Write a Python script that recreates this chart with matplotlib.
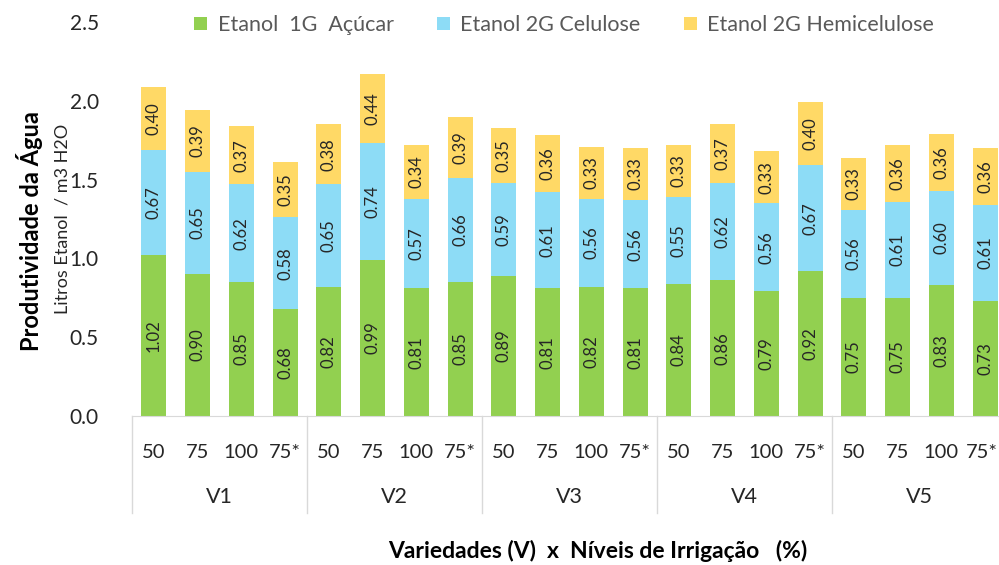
import matplotlib
matplotlib.use("Agg")
import matplotlib.pyplot as plt
import matplotlib.transforms as mtransforms
import numpy as np

plt.rcParams['font.family'] = ['Lato', 'DejaVu Sans']

groups = ["V1", "V2", "V3", "V4", "V5"]
levels = ["50", "75", "100", "75*"]
acucar = [1.02, 0.90, 0.85, 0.68, 0.82, 0.99, 0.81, 0.85, 0.89, 0.81,
          0.82, 0.81, 0.84, 0.86, 0.79, 0.92, 0.75, 0.75, 0.83, 0.73]
celulose = [0.67, 0.65, 0.62, 0.58, 0.65, 0.74, 0.57, 0.66, 0.59, 0.61,
            0.56, 0.56, 0.55, 0.62, 0.56, 0.67, 0.56, 0.61, 0.60, 0.61]
hemicelulose = [0.40, 0.39, 0.37, 0.35, 0.38, 0.44, 0.34, 0.39, 0.35, 0.36,
                0.33, 0.33, 0.33, 0.37, 0.33, 0.40, 0.33, 0.36, 0.36, 0.36]
series_names = ["Etanol  1G  Açúcar", "Etanol 2G Celulose", "Etanol 2G Hemicelulose"]
colors = ["#92D050", "#8DDCF6", "#FFD966"]

fig = plt.figure(figsize=(9.99, 5.65), dpi=100)
ax = fig.add_axes([132/999, 149/565, 1 - 132/999, (416-22)/565])

n = len(acucar)
x = np.arange(n)
w = 0.57
bottom = np.zeros(n)
for vals, c, name in zip([acucar, celulose, hemicelulose], colors, series_names):
    vals = np.array(vals)
    ax.bar(x, vals, w, bottom=bottom, color=c, label=name)
    for xi, b, v in zip(x, bottom, vals):
        ax.text(xi, b + v/2, f"{v:.2f}", rotation=90, ha='center', va='center',
                fontsize=12, color='#262626')
    bottom = bottom + vals

ax.set_xlim(-0.5, -0.5 + (999-132)/43.75)
ax.set_ylim(0, 2.5)
ticks = [0, 0.5, 1.0, 1.5, 2.0, 2.5]
ax.set_yticks(ticks)
ax.set_yticklabels([f"{t:.1f}" for t in ticks], fontsize=15, color='#262626')
ax.tick_params(axis='y', length=0, pad=24)
ax.set_xticks(x)
ax.set_xticklabels(levels * len(groups), fontsize=14.5, color='#262626')
ax.tick_params(axis='x', length=0, pad=20)
last = ax.get_xticklabels()[-1]
last.set_transform(last.get_transform() + mtransforms.ScaledTranslation(-3/100, 0, fig.dpi_scale_trans))
for s in ['top', 'right', 'left']:
    ax.spines[s].set_visible(False)
ax.spines['bottom'].set_color('#D9D9D9')

trans = mtransforms.blended_transform_factory(ax.transData, ax.transAxes)
ybot = -(513-416)/(416-22)
for k in range(len(groups)):
    xs = -0.5 + 4*k
    ax.plot([xs, xs], [0, ybot], transform=trans, color='#D9D9D9', lw=1, clip_on=False)
    ax.text(1.5 + 4*k, -(497-416)/(416-22), groups[k], transform=trans, ha='center',
            va='center', fontsize=15.5, color='#262626')

fig.text(598/999, 1 - 551/565, "Variedades (V)  x  Níveis de Irrigação   (%)", ha='center',
         va='center', fontsize=16.5, fontweight='bold', color='#000000')
fig.text(30/999, 1 - 231/565, "Produtividade da Água", rotation=90, ha='center', va='center',
         fontsize=17, fontweight='bold', color='#000000')
fig.text(62/999, 1 - 219/565, "Litros Etanol  / m3 H2O", rotation=90, ha='center', va='center',
         fontsize=13, color='#262626')

leg = fig.legend(loc='center', bbox_to_anchor=(564/999, 1 - 25/565), ncol=3, frameon=False,
                 fontsize=15.5, handlelength=0.6, handleheight=0.6, columnspacing=2.0,
                 handletextpad=0.5)
for t in leg.get_texts():
    t.set_color('#595959')

fig.savefig("out.png", dpi=100)
